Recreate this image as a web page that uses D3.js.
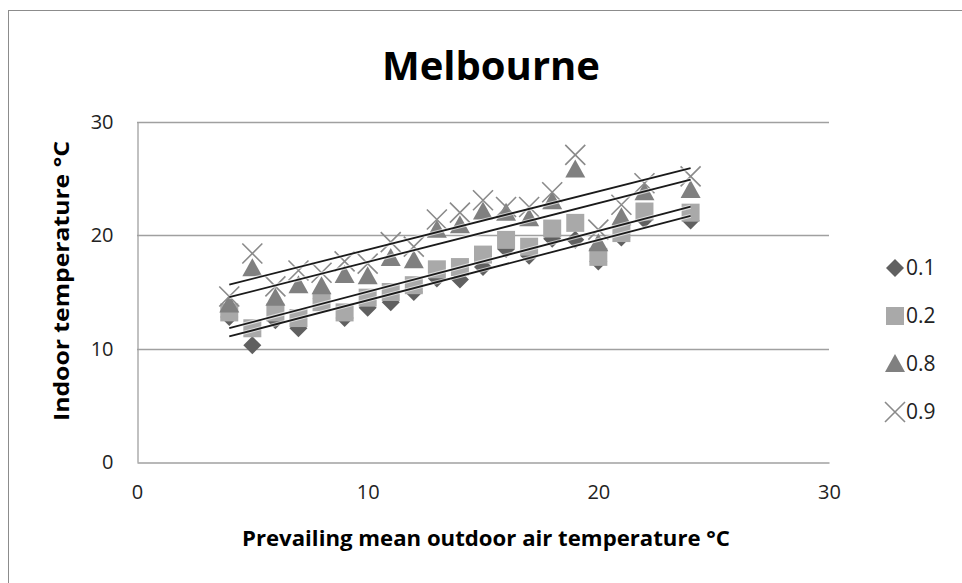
<!DOCTYPE html>
<html><head><meta charset="utf-8">
<script src="https://cdn.jsdelivr.net/npm/d3@7"></script>
<style>body{margin:0;background:#fff;}svg{display:block;font-family:"Open Sans",sans-serif;}</style>
</head><body>
<svg id="c" width="962" height="583"></svg>
<script>
const outdoor = [4,5,6,7,8,9,10,11,12,13,14,15,16,17,18,19,20,21,22,24];
const s01 = [12.8,10.3,12.5,11.8,14.4,12.7,13.6,14.1,15.0,16.2,16.1,17.2,18.8,18.2,19.7,19.6,17.7,19.8,21.4,21.3];
const s02 = [13.2,11.8,13.2,12.7,14.1,13.2,14.5,15.0,15.6,17.0,17.2,18.3,19.6,19.0,20.6,21.1,18.1,20.2,22.1,22.0];
const s08 = [13.9,17.1,14.5,15.6,15.5,16.5,16.4,18.0,17.8,20.5,20.9,22.1,22.0,21.5,23.0,25.8,19.3,21.6,23.8,24.0];
const s09 = [14.6,18.4,15.5,16.9,16.7,17.7,17.5,19.4,19.0,21.4,22.0,23.1,22.5,22.5,23.8,27.1,20.5,22.7,24.6,25.2];
const seriesNames = ["0.1","0.2","0.8","0.9"];
const xTicks = [0,10,20,30];
const yTicks = [0,10,20,30];
const title = "Melbourne";
const xTitle = "Prevailing mean outdoor air temperature \u00B0C";
const yTitle = "Indoor temperature \u00B0C";

const series = [
  {name: seriesNames[0], vals: s01, shape: "diamond", color: "#606060"},
  {name: seriesNames[1], vals: s02, shape: "square", color: "#a9a9a9"},
  {name: seriesNames[2], vals: s08, shape: "triangle", color: "#808080"},
  {name: seriesNames[3], vals: s09, shape: "cross", color: "#8a8a8a"}
];

const svg = d3.select("#c");
svg.append("rect").attr("x",8.5).attr("y",10.5).attr("width",970).attr("height",600)
  .attr("fill","#fff").attr("stroke","#8c8c8c").attr("stroke-width",1);

const x = d3.scaleLinear().domain([0,30]).range([137,829]);
const y = d3.scaleLinear().domain([0,30]).range([462,122]);

// gridlines
svg.append("g").selectAll("line").data(yTicks.filter(d=>d>0)).join("line")
  .attr("x1",x(0)).attr("x2",x(30)).attr("y1",d=>Math.round(y(d))+0.5).attr("y2",d=>Math.round(y(d))+0.5)
  .attr("stroke","#a0a0a0").attr("stroke-width",1.3);

// axes
const xAxis = svg.append("g").attr("transform",`translate(0,${Math.round(y(0))+0.5})`)
  .call(d3.axisBottom(x).tickValues(xTicks).tickSize(0).tickPadding(22));
const yAxis = svg.append("g").attr("transform",`translate(${Math.round(x(0))+0.5},0)`)
  .call(d3.axisLeft(y).tickValues(yTicks).tickSize(0).tickPadding(24));
[xAxis,yAxis].forEach(a=>{
  a.select(".domain").attr("stroke","#a0a0a0").attr("stroke-width",1.3);
  a.selectAll("text").attr("font-family","Open Sans").attr("font-size",20).attr("fill","#222");
});

// markers
function drawMarker(g, shape, color, cx, cy){
  if(shape==="diamond"){
    g.append("path").attr("d",`M${cx},${cy-9}L${cx+9},${cy}L${cx},${cy+9}L${cx-9},${cy}Z`).attr("fill",color);
  } else if(shape==="square"){
    g.append("rect").attr("x",cx-9).attr("y",cy-9).attr("width",18).attr("height",18).attr("fill",color);
  } else if(shape==="triangle"){
    g.append("path").attr("d",`M${cx},${cy-10}L${cx+10},${cy+8}L${cx-10},${cy+8}Z`).attr("fill",color);
  } else {
    g.append("path").attr("d",`M${cx-10},${cy-10}L${cx+10},${cy+10}M${cx+10},${cy-10}L${cx-10},${cy+10}`)
      .attr("stroke",color).attr("stroke-width",1.6).attr("fill","none");
  }
}
const pts = svg.append("g");
series.forEach(s=>{
  const g = pts.append("g");
  s.vals.forEach((v,i)=>drawMarker(g, s.shape, s.color, x(outdoor[i]), y(v)));
});

// linear trendlines
const tl = svg.append("g");
series.forEach(s=>{
  const n = outdoor.length;
  const mx = d3.mean(outdoor), my = d3.mean(s.vals);
  let sxy=0, sxx=0;
  for(let i=0;i<n;i++){ sxy += (outdoor[i]-mx)*(s.vals[i]-my); sxx += (outdoor[i]-mx)**2; }
  const b = sxy/sxx, a = my - b*mx;
  const x0 = d3.min(outdoor), x1 = d3.max(outdoor);
  tl.append("line").attr("x1",x(x0)).attr("x2",x(x1)).attr("y1",y(a+b*x0)).attr("y2",y(a+b*x1))
    .attr("stroke","#fff").attr("stroke-width",4).attr("opacity",0.6);
  tl.append("line").attr("x1",x(x0)).attr("x2",x(x1)).attr("y1",y(a+b*x0)).attr("y2",y(a+b*x1))
    .attr("stroke","#1a1a1a").attr("stroke-width",1.8);
});

// titles
svg.append("text").attr("x",491).attr("y",80).attr("text-anchor","middle")
  .attr("font-family","Open Sans").attr("font-weight","bold").attr("font-size",40).attr("fill","#000").text(title);
svg.append("text").attr("x",486).attr("y",546).attr("text-anchor","middle")
  .attr("font-family","Open Sans").attr("font-weight","bold").attr("font-size",21).attr("textLength",488).attr("lengthAdjust","spacingAndGlyphs").attr("fill","#000").text(xTitle);
svg.append("text").attr("transform","translate(69,281) rotate(-90)").attr("text-anchor","middle")
  .attr("font-family","Open Sans").attr("font-weight","bold").attr("font-size",21).attr("textLength",280).attr("lengthAdjust","spacingAndGlyphs").attr("fill","#000").text(yTitle);

// legend
const leg = svg.append("g");
series.forEach((s,i)=>{
  const ly = 268 + i*48;
  const g = leg.append("g");
  drawMarker(g, s.shape, s.color, 895, ly);
  g.append("text").attr("x",906).attr("y",ly).attr("dy","0.35em")
    .attr("font-family","Open Sans").attr("font-size",21).attr("fill","#222").text(s.name);
});
</script>
</body></html>
